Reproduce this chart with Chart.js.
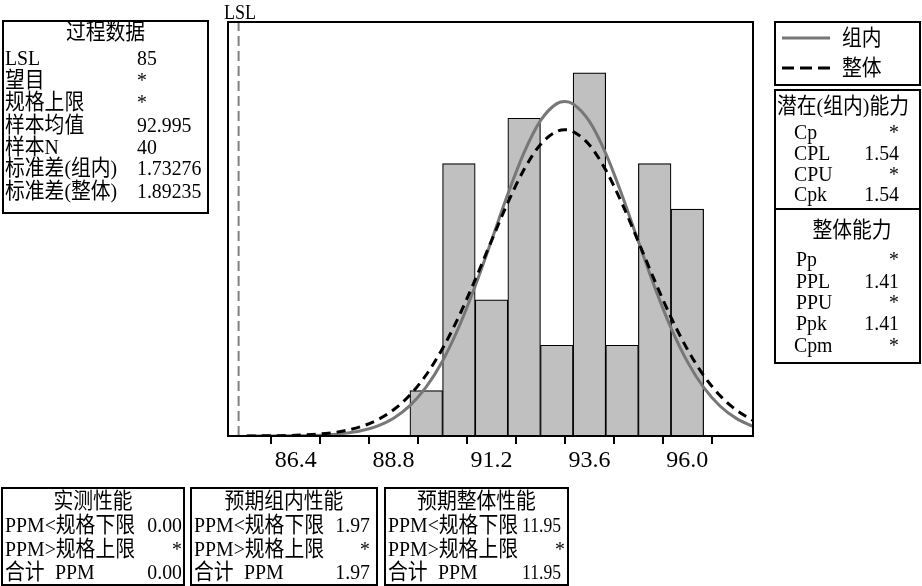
<!DOCTYPE html>
<html>
<head>
<meta charset="utf-8">
<script src="https://cdn.jsdelivr.net/npm/chart.js@4/dist/chart.umd.min.js"></script>
<style>
  html, body { margin: 0; padding: 0; background: #fff; }
  #page { position: relative; width: 922px; height: 586px; overflow: hidden;
          font-family: "Liberation Serif", "Noto Sans CJK SC", serif; font-size: 22px; color: #000; }
  #page canvas { position: absolute; left: 0; top: 0; }
  .box { position: absolute; border: 2px solid #000; box-sizing: border-box; }
  .t { position: absolute; line-height: 24px; white-space: nowrap;
       transform: scaleX(0.9); transform-origin: 0 50%; }
  .r { text-align: right; transform-origin: 100% 50%; }
  .c { text-align: center; transform-origin: 50% 50%; }
  .n { transform: scaleX(0.8); }
</style>
</head>
<body>
<div id="page">
  <canvas id="capChart" width="922" height="586"></canvas>

  <div class="t" style="left:224px;top:0px;font-size:20px">LSL</div>

  <!-- process data -->
  <div class="box" style="left:2px;top:20px;width:207px;height:194px"></div>
  <div class="t c" style="left:2px;width:207px;top:20px">过程数据</div>
  <div class="t" style="left:5px;top:46px">LSL</div><div class="t" style="left:137px;top:46px">85</div>
  <div class="t" style="left:5px;top:68px">望目</div><div class="t" style="left:137px;top:68px">*</div>
  <div class="t" style="left:5px;top:90px">规格上限</div><div class="t" style="left:137px;top:90px">*</div>
  <div class="t" style="left:5px;top:113px">样本均值</div><div class="t" style="left:137px;top:113px">92.995</div>
  <div class="t" style="left:5px;top:135px">样本N</div><div class="t" style="left:137px;top:135px">40</div>
  <div class="t" style="left:5px;top:156px">标准差(组内)</div><div class="t" style="left:137px;top:156px">1.73276</div>
  <div class="t" style="left:5px;top:179px">标准差(整体)</div><div class="t" style="left:137px;top:179px">1.89235</div>

  <!-- legend -->
  <div class="box" style="left:774px;top:21px;width:147px;height:65px"></div>
  <svg style="position:absolute;left:0;top:0" width="922" height="100">
    <line x1="782" y1="38" x2="830" y2="38" stroke="#777" stroke-width="3"/>
    <line x1="782" y1="68" x2="830" y2="68" stroke="#000" stroke-width="3" stroke-dasharray="12,6"/>
  </svg>
  <div class="t" style="left:842px;top:26px">组内</div>
  <div class="t" style="left:842px;top:56px">整体</div>

  <!-- capability -->
  <div class="box" style="left:774px;top:89px;width:147px;height:275px"></div>
  <div style="position:absolute;left:774px;top:208px;width:147px;border-top:2px solid #000"></div>
  <div class="t" style="left:777px;top:94px">潜在(组内)能力</div>
  <div class="t" style="left:794px;top:120px">Cp</div><div class="t r" style="left:839px;width:60px;top:120px">*</div>
  <div class="t" style="left:794px;top:141px">CPL</div><div class="t r" style="left:839px;width:60px;top:141px">1.54</div>
  <div class="t" style="left:794px;top:162px">CPU</div><div class="t r" style="left:839px;width:60px;top:162px">*</div>
  <div class="t" style="left:794px;top:182px">Cpk</div><div class="t r" style="left:839px;width:60px;top:182px">1.54</div>
  <div class="t c" style="left:792px;width:120px;top:218px">整体能力</div>
  <div class="t" style="left:796px;top:247px">Pp</div><div class="t r" style="left:839px;width:60px;top:247px">*</div>
  <div class="t" style="left:796px;top:269px">PPL</div><div class="t r" style="left:839px;width:60px;top:269px">1.41</div>
  <div class="t" style="left:796px;top:290px">PPU</div><div class="t r" style="left:839px;width:60px;top:290px">*</div>
  <div class="t" style="left:796px;top:311px">Ppk</div><div class="t r" style="left:839px;width:60px;top:311px">1.41</div>
  <div class="t" style="left:794px;top:333px">Cpm</div><div class="t r" style="left:839px;width:60px;top:333px">*</div>

  <!-- performance boxes -->
  <div class="box" style="left:1px;top:487px;width:184px;height:99px"></div>
  <div class="t c" style="left:1px;width:184px;top:489px">实测性能</div>
  <div class="t" style="left:5px;top:513px">PPM&lt;规格下限</div><div class="t r" style="left:122px;width:60px;top:513px">0.00</div>
  <div class="t" style="left:5px;top:537px">PPM&gt;规格上限</div><div class="t r" style="left:122px;width:60px;top:537px">*</div>
  <div class="t" style="left:5px;top:560px">合计 <span style="margin-left:6px">PPM</span></div><div class="t r" style="left:122px;width:60px;top:560px">0.00</div>

  <div class="box" style="left:190px;top:487px;width:188px;height:99px"></div>
  <div class="t c" style="left:190px;width:188px;top:489px">预期组内性能</div>
  <div class="t" style="left:194px;top:513px">PPM&lt;规格下限</div><div class="t r" style="left:310px;width:60px;top:513px">1.97</div>
  <div class="t" style="left:194px;top:537px">PPM&gt;规格上限</div><div class="t r" style="left:310px;width:60px;top:537px">*</div>
  <div class="t" style="left:194px;top:560px">合计 <span style="margin-left:6px">PPM</span></div><div class="t r" style="left:310px;width:60px;top:560px">1.97</div>

  <div class="box" style="left:384px;top:487px;width:185px;height:99px"></div>
  <div class="t c" style="left:384px;width:185px;top:489px">预期整体性能</div>
  <div class="t" style="left:388px;top:513px">PPM&lt;规格下限</div><div class="t r n" style="left:501px;width:60px;top:513px">11.95</div>
  <div class="t" style="left:388px;top:537px">PPM&gt;规格上限</div><div class="t r" style="left:505px;width:60px;top:537px">*</div>
  <div class="t" style="left:388px;top:560px">合计 <span style="margin-left:6px">PPM</span></div><div class="t r n" style="left:501px;width:60px;top:560px">11.95</div>
</div>

<script>
// histogram bins (midpoints) and counts
const binMids = [89.6, 90.4, 91.2, 92.0, 92.8, 93.6, 94.4, 95.2, 96.0];
const binCounts = [1, 6, 3, 7, 2, 8, 2, 6, 5];

// fitted curves
const curveX = [85.2, 85.6, 86.0, 86.4, 86.8, 87.2, 87.6, 88.0, 88.4, 88.8, 89.2, 89.6, 90.0,
  90.4, 90.8, 91.2, 91.6, 92.0, 92.4, 92.8, 93.0, 93.2, 93.6, 94.0, 94.4, 94.8, 95.2, 95.6,
  96.0, 96.4, 96.8, 97.2, 97.6];
const withinY = [0.000, 0.001, 0.002, 0.005, 0.012, 0.028, 0.058, 0.116, 0.219, 0.393, 0.670,
  1.081, 1.654, 2.401, 3.303, 4.308, 5.329, 6.248, 6.946, 7.322, 7.368, 7.316, 6.932, 6.228,
  5.304, 4.282, 3.279, 2.380, 1.638, 1.069, 0.661, 0.388, 0.216];
const overallY = [0.001, 0.003, 0.007, 0.016, 0.032, 0.062, 0.116, 0.207, 0.354, 0.578, 0.903,
  1.349, 1.928, 2.635, 3.443, 4.302, 5.141, 5.875, 6.421, 6.710, 6.746, 6.706, 6.410, 5.859,
  5.121, 4.280, 3.422, 2.615, 1.912, 1.336, 0.893, 0.571, 0.349];

// x axis
const tickValues = [85.2, 86.4, 87.6, 88.8, 90.0, 91.2, 92.4, 93.6, 94.8, 96.0, 97.2];
const labeledTicks = [86.4, 88.8, 91.2, 93.6, 96.0];
const lsl = 85;
const xMin = 84.74, xMax = 97.61, yMax = 9.12;

const framePlugin = {
  id: "frame",
  afterDatasetsDraw(chart) {
    const { ctx, chartArea: a } = chart;
    ctx.save();
    ctx.strokeStyle = "#000";
    ctx.lineWidth = 2;
    ctx.strokeRect(a.left, a.top, a.right - a.left, a.bottom - a.top);
    ctx.restore();
  },
};

new Chart(document.getElementById("capChart").getContext("2d"), {
  type: "bar",
  data: {
    datasets: [
      {
        type: "bar",
        data: binMids.map((x, i) => ({ x: x, y: binCounts[i] })),
        backgroundColor: "#c0c0c0",
        borderColor: "#000",
        borderWidth: 1.2,
        barPercentage: 1,
        categoryPercentage: 1,
        order: 3,
      },
      {
        type: "line",
        data: [{ x: lsl, y: 0 }, { x: lsl, y: yMax }],
        borderColor: "#808080",
        borderWidth: 2,
        borderDash: [10, 5],
        pointRadius: 0,
        order: 2,
      },
      {
        type: "line",
        data: curveX.map((x, i) => ({ x: x, y: withinY[i] })),
        borderColor: "#777777",
        borderWidth: 3,
        pointRadius: 0,
        cubicInterpolationMode: "monotone",
        order: 1,
      },
      {
        type: "line",
        data: curveX.map((x, i) => ({ x: x, y: overallY[i] })),
        borderColor: "#000",
        borderWidth: 3,
        borderDash: [9, 6],
        pointRadius: 0,
        cubicInterpolationMode: "monotone",
        order: 0,
      },
    ],
  },
  options: {
    responsive: false,
    animation: false,
    devicePixelRatio: 1,
    layout: { padding: { left: 228, right: 169, top: 22, bottom: 106 } },
    plugins: { legend: { display: false }, tooltip: { enabled: false } },
    scales: {
      x: {
        type: "linear",
        offset: false,
        min: xMin,
        max: xMax,
        afterBuildTicks: (scale) => {
          scale.ticks = tickValues.map((v) => ({ value: v }));
        },
        afterFit: (scale) => {
          scale.height = 44;
        },
        border: { display: true, color: "#000", width: 2 },
        grid: { drawOnChartArea: false, drawTicks: true, tickLength: 8, color: "#000", lineWidth: 2 },
        ticks: {
          autoSkip: false,
          maxRotation: 0,
          minRotation: 0,
          padding: 2,
          color: "#000",
          font: { family: "Liberation Serif", size: 24 },
          callback: (v) => (labeledTicks.some((t) => Math.abs(t - v) < 1e-6) ? v.toFixed(1) : ""),
        },
      },
      y: { display: false, min: 0, max: yMax },
    },
  },
  plugins: [framePlugin],
});
</script>
</body>
</html>
